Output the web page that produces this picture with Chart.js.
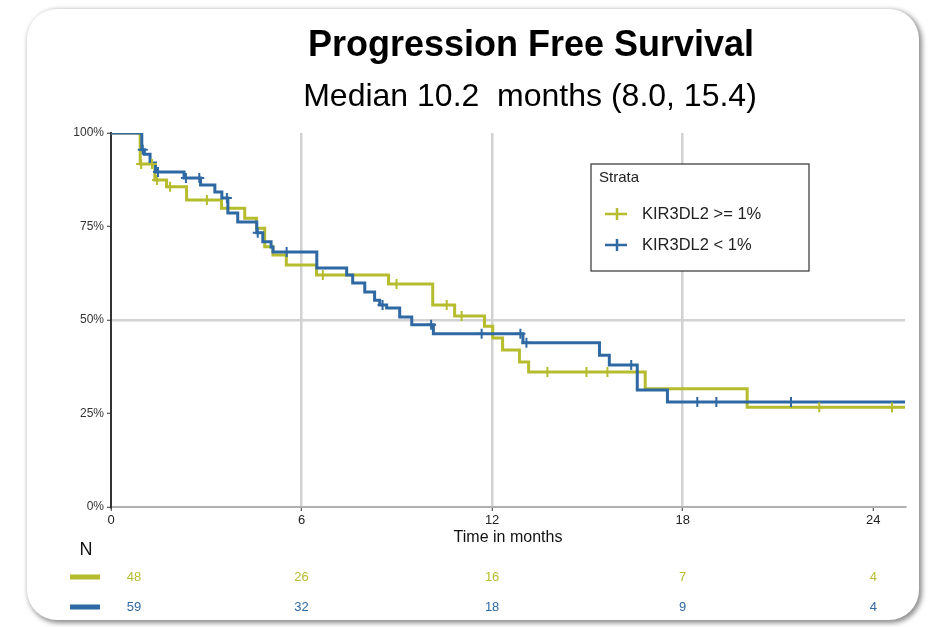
<!DOCTYPE html>
<html>
<head>
<meta charset="utf-8">
<script src="https://cdn.jsdelivr.net/npm/chart.js@4.4.0/dist/chart.umd.min.js"></script>
<style>
  body { margin: 0; background: #fff; }
  #card {
    position: absolute; left: 27px; top: 9px; width: 892px; height: 611px;
    border-radius: 30px; background: #fff;
    box-shadow: 2px 2px 5px 1px rgba(0,0,0,0.45);
  }
  #km { position: absolute; left: 0; top: 0; }
</style>
</head>
<body>
<div id="card"></div>
<canvas id="km" width="931" height="627"></canvas>
<script>
var TITLE = 'Progression Free Survival';
var SUBTITLE = 'Median 10.2  months (8.0, 15.4)';
var X_TITLE = 'Time in months';
var LEGEND_TITLE = 'Strata';
var LABELS = ['KIR3DL2 >= 1%', 'KIR3DL2 < 1%'];
var COLORS = ['#b5bc2d', '#2f69a3'];

var X_TICKS = [0, 6, 12, 18, 24];
var Y_TICKS = [0, 25, 50, 75, 100];

// step curve: time of each drop and the survival (%) from that time on
var TIME_HIGH = [0, 0.92, 1.38, 1.75, 2.38, 3.48, 4.21, 4.58, 4.84, 5.10, 5.52, 6.47, 8.74, 10.13, 10.82, 11.76, 12.02, 12.33, 12.86, 13.15, 16.82, 20.03, 25];
var SURV_HIGH = [100, 91.7, 87.4, 85.6, 82.1, 79.9, 77.2, 74.5, 69.6, 67.4, 64.7, 62.0, 59.6, 54.0, 51.1, 48.3, 45.2, 42.0, 38.8, 36.1, 31.6, 26.7, 26.7];
var CENS_HIGH = [0.95, 1.29, 1.45, 1.86, 3.02, 6.67, 8.99, 10.57, 11.04, 13.74, 14.97, 15.63, 22.30, 24.59];

var TIME_LOW = [0, 0.97, 1.05, 1.23, 1.40, 2.30, 2.82, 3.27, 3.49, 3.68, 3.99, 4.59, 4.78, 5.04, 5.10, 6.48, 7.42, 7.61, 7.99, 8.30, 8.46, 8.68, 9.09, 9.47, 10.15, 12.97, 15.38, 15.69, 16.57, 17.52, 25];
var SURV_LOW = [100, 95.5, 94.3, 92.0, 89.6, 88.0, 86.1, 84.2, 82.6, 78.6, 76.2, 73.3, 70.9, 69.5, 68.2, 63.9, 62.0, 59.9, 57.5, 55.3, 54.0, 53.2, 50.8, 48.7, 46.3, 43.9, 40.6, 38.0, 31.3, 28.1, 28.1];
var CENS_LOW = [1.00, 1.48, 2.36, 2.78, 3.65, 4.62, 5.53, 8.55, 10.08, 11.67, 12.89, 13.08, 16.38, 18.46, 19.06, 21.41];

// numbers at risk
var RISK_TIMES = [0, 6, 12, 18, 24];
var RISK_HIGH = [48, 26, 16, 7, 4];
var RISK_LOW = [59, 32, 18, 9, 4];

var FONT = '"Liberation Sans", Arial, sans-serif';

function levelAt(times, surv, t) {
  var s = surv[0];
  for (var i = 0; i < times.length; i++) {
    if (times[i] <= t) s = surv[i];
  }
  return s;
}
function curve(times, surv) {
  return times.map(function (t, i) { return { x: t, y: surv[i] }; });
}
function marks(cens, times, surv) {
  return cens.map(function (t) { return { x: t, y: levelAt(times, surv, t) }; });
}

var overlay = {
  id: 'overlay',
  afterDraw: function (chart) {
    var ctx = chart.ctx, a = chart.chartArea, x = chart.scales.x;
    ctx.save();
    ctx.textBaseline = 'middle';
    ctx.textAlign = 'center';
    ctx.fillStyle = '#000';
    ctx.font = 'bold 36px ' + FONT;
    ctx.fillText(TITLE, 531, 46);
    ctx.font = '32px ' + FONT;
    ctx.fillText(SUBTITLE, 530, 97);

    ctx.font = '16px ' + FONT;
    ctx.fillStyle = '#111';
    ctx.fillText(X_TITLE, (a.left + a.right) / 2, 538);

    // legend box
    ctx.fillStyle = '#fff';
    ctx.fillRect(591, 164, 218, 107);
    ctx.strokeStyle = '#333';
    ctx.lineWidth = 1.2;
    ctx.strokeRect(591, 164, 218, 107);
    ctx.textAlign = 'left';
    ctx.fillStyle = '#222';
    ctx.font = '15px ' + FONT;
    ctx.fillText(LEGEND_TITLE, 599, 178);
    [214, 245].forEach(function (yy, i) {
      ctx.strokeStyle = COLORS[i];
      ctx.lineWidth = 2.5;
      ctx.beginPath();
      ctx.moveTo(605, yy); ctx.lineTo(627, yy);
      ctx.moveTo(617, yy - 6); ctx.lineTo(617, yy + 6);
      ctx.stroke();
      ctx.fillStyle = '#222';
      ctx.font = '16.5px ' + FONT;
      ctx.fillText(LABELS[i], 642, yy);
    });

    // risk table
    ctx.fillStyle = '#111';
    ctx.font = '18px ' + FONT;
    ctx.textAlign = 'center';
    ctx.fillText('N', 86, 550);
    [[RISK_HIGH, 577], [RISK_LOW, 607]].forEach(function (row, i) {
      ctx.fillStyle = COLORS[i];
      ctx.fillRect(70, row[1] - 2.5, 30, 5);
      ctx.font = '13px ' + FONT;
      row[0].forEach(function (n, j) {
        var px = x.getPixelForValue(RISK_TIMES[j]);
        if (RISK_TIMES[j] === 0) px += 23;
        ctx.fillText(String(n), px, row[1]);
      });
    });
    ctx.restore();
  }
};

new Chart(document.getElementById('km'), {
  type: 'line',
  data: {
    datasets: [
      { label: LABELS[1] + ' censored', data: marks(CENS_LOW, TIME_LOW, SURV_LOW), showLine: false,
        pointStyle: 'cross', pointRadius: 5, pointBorderWidth: 2, borderColor: COLORS[1], order: 0 },
      { label: LABELS[0] + ' censored', data: marks(CENS_HIGH, TIME_HIGH, SURV_HIGH), showLine: false,
        pointStyle: 'cross', pointRadius: 5, pointBorderWidth: 2, borderColor: COLORS[0], order: 0 },
      { label: LABELS[1], data: curve(TIME_LOW, SURV_LOW), stepped: true, borderColor: COLORS[1],
        borderWidth: 3, pointRadius: 0, fill: false, order: 1 },
      { label: LABELS[0], data: curve(TIME_HIGH, SURV_HIGH), stepped: true, borderColor: COLORS[0],
        borderWidth: 3, pointRadius: 0, fill: false, order: 2 }
    ]
  },
  options: {
    responsive: false,
    devicePixelRatio: 1,
    animation: false,
    layout: { padding: { top: 133, right: 26, bottom: 0, left: 0 } },
    plugins: { legend: { display: false }, tooltip: { enabled: false } },
    scales: {
      x: {
        type: 'linear', min: 0, max: 25,
        afterFit: function (s) { s.height = 120; },
        afterBuildTicks: function (s) { s.ticks = X_TICKS.map(function (v) { return { value: v }; }); },
        grid: {
          color: function (c) { return [6, 12, 18].indexOf(c.tick.value) >= 0 ? '#d2d2d2' : 'rgba(0,0,0,0)'; },
          lineWidth: 2.5, tickLength: 4, tickColor: '#333', tickWidth: 1
        },
        border: { color: '#b0b0b0', width: 2 },
        ticks: { color: '#222', font: { family: FONT, size: 13 }, padding: 2, maxRotation: 0 }
      },
      y: {
        min: 0, max: 100,
        afterFit: function (s) { s.width = 111; },
        afterBuildTicks: function (s) { s.ticks = Y_TICKS.map(function (v) { return { value: v }; }); },
        grid: {
          color: function (c) { return c.tick.value === 50 ? '#d2d2d2' : 'rgba(0,0,0,0)'; },
          lineWidth: 2.5, tickLength: 4, tickColor: '#333', tickWidth: 1
        },
        border: { color: '#333', width: 2 },
        ticks: { color: '#333', font: { family: FONT, size: 12 }, padding: 3,
                 callback: function (v) { return v + '%'; } }
      }
    }
  },
  plugins: [overlay]
});
</script>
</body>
</html>
